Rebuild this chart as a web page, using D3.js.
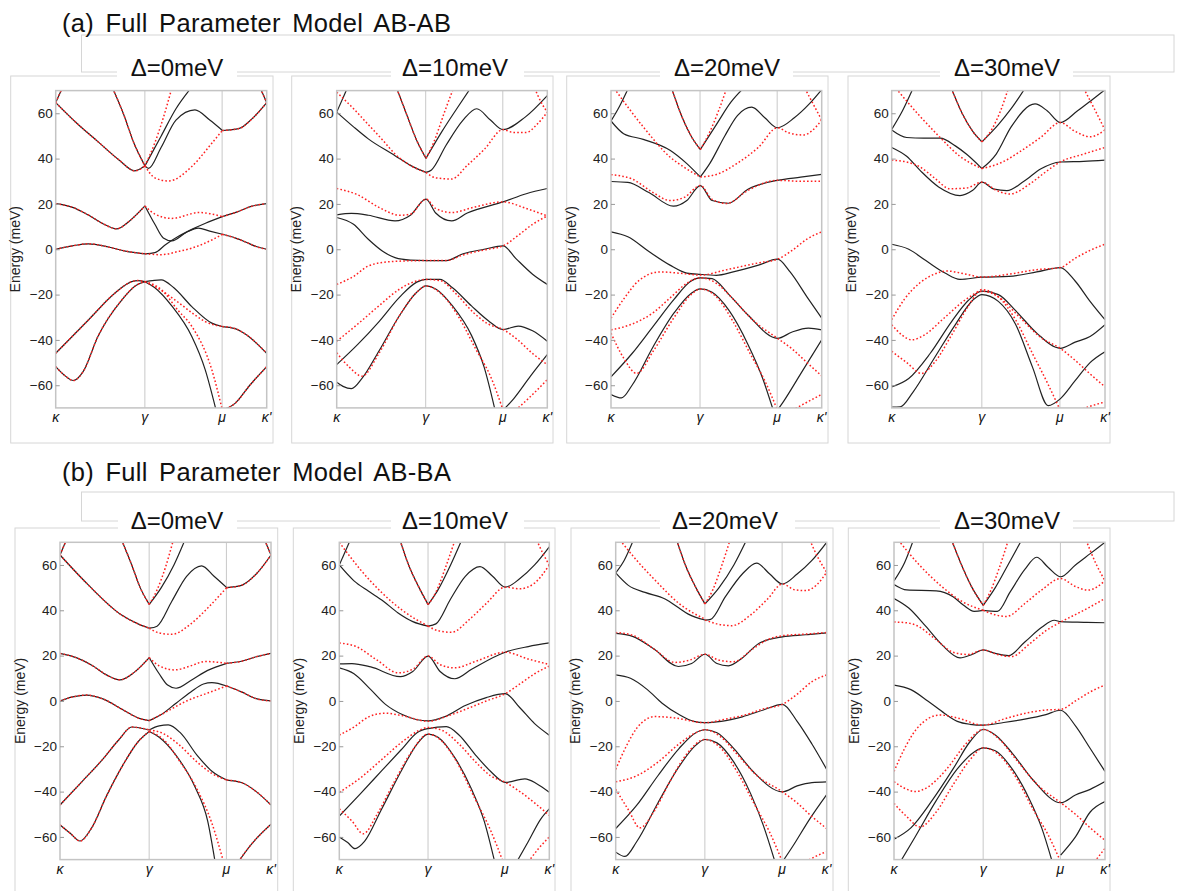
<!DOCTYPE html>
<html>
<head>
<meta charset="utf-8">
<script src="https://cdn.jsdelivr.net/npm/d3@7"></script>
<style>
  body { margin: 0; background: #fff; }
  svg { display: block; font-family: "Liberation Sans", Arial, Helvetica, sans-serif; }
</style>
</head>
<body>
<div id="chart"></div>
<script>
// k-path positions (fraction of path) and labels
const kTicks = [0, 0.4226, 0.7887, 1];
const kLabels = ["κ", "γ", "μ", "κ'"];
const energyTicks = [-60, -40, -20, 0, 20, 40, 60];
const energyRange = [-70, 70];
const deltaLabels = ["Δ=0meV", "Δ=10meV", "Δ=20meV", "Δ=30meV"];
const rowTitles = ["(a) Full Parameter Model AB-AB", "(b) Full Parameter Model AB-BA"];

// bands: [k, energy meV]
// both = black solid with red dotted on top, black = full model only, red = dotted only
const ababD0 = {
  both: [
    [[0,64.7],[0.045,74]],
    [[0,64.7],[0.1,55.6],[0.2,47.5],[0.3,39.4],[0.375,34.6],[0.423,36.8]],
    [[0.27,71],[0.32,60],[0.37,47],[0.423,36.8]],
    [[0.79,52.4],[0.87,53.3],[0.93,57.5],[1,64.7]],
    [[0.97,71],[1,64.7]],
    [[0,20.1],[0.08,18.5],[0.155,15.1],[0.22,11.5],[0.289,9],[0.35,12.5],[0.423,19.1]],
    [[0.79,14.4],[0.86,16.5],[0.93,19],[1,20.1]],
    [[0,0],[0.08,1.5],[0.155,2.4],[0.25,1],[0.33,-0.8],[0.423,-2]],
    [[0.79,6.6],[0.85,5],[0.9,3.2],[0.95,1.2],[1,0]],
    [[0,-45.9],[0.155,-31.2],[0.28,-19.4],[0.36,-14.3],[0.39,-13.8],[0.423,-14.3]],
    [[0.79,-34.1],[0.85,-35],[0.9,-37.5],[1,-45.9]],
    [[0,-51.8],[0.04,-55.5],[0.084,-57.9],[0.13,-54],[0.2,-38.5],[0.313,-22.4],[0.38,-16],[0.423,-14.3]],
    [[0.79,-71],[0.85,-68],[0.92,-60],[1,-51.8]]
  ],
  black: [
    [[0.423,36.8],[0.5,50],[0.57,62],[0.64,71]],
    [[0.423,36.8],[0.44,35.7],[0.5,45],[0.57,57],[0.66,61.5],[0.73,57],[0.79,52.4]],
    [[0.423,19.1],[0.47,11],[0.51,5],[0.55,3.7],[0.62,7.5],[0.676,9.3],[0.73,8],[0.79,6.6]],
    [[0.423,-2],[0.47,-1.5],[0.52,2],[0.58,5.6],[0.65,9],[0.71,11.5],[0.79,14.4]],
    [[0.423,-14.3],[0.5,-13.5],[0.56,-17],[0.645,-25.3],[0.74,-32.6],[0.79,-34.1]],
    [[0.423,-14.3],[0.47,-17],[0.55,-25],[0.645,-38.5],[0.708,-53],[0.76,-71]]
  ],
  red: [
    [[0.423,36.8],[0.47,47],[0.51,58],[0.55,71]],
    [[0.423,36.8],[0.47,31.5],[0.534,30.1],[0.645,36.5],[0.74,46.8],[0.79,52.4]],
    [[0.423,19.1],[0.47,15.5],[0.55,13.6],[0.68,16.2],[0.79,14.4]],
    [[0.423,-2],[0.5,-2.4],[0.58,-1],[0.645,0.5],[0.74,4.1],[0.79,6.6]],
    [[0.423,-14.3],[0.48,-17],[0.566,-22.4],[0.66,-29],[0.708,-31.9],[0.79,-34.1]],
    [[0.423,-14.3],[0.502,-17.9],[0.58,-27],[0.645,-34],[0.74,-53.2],[0.79,-71]]
  ]
};

const ababD10 = {
  both: [
    [[0.285,71],[0.33,60],[0.38,48],[0.424,40.1]]
  ],
  black: [
    [[0,60.5],[0.05,71]],
    [[0,60.5],[0.08,54],[0.15,48.7],[0.277,41.3],[0.35,37],[0.424,33.9]],
    [[0.424,40.1],[0.5,52],[0.57,62],[0.635,71]],
    [[0.424,33.9],[0.45,35],[0.52,46],[0.6,57],[0.665,62],[0.73,57],[0.79,52.8],[0.895,58.3],[1,67.8]],
    [[0,15.2],[0.07,15.8],[0.15,15],[0.277,12.5],[0.35,15],[0.424,22.1],[0.47,16],[0.546,12.5],[0.62,16],[0.79,20.9],[0.9,24.5],[1,26.8]],
    [[0,14],[0.08,11],[0.15,4.4],[0.22,-1],[0.277,-3.7],[0.35,-4.8],[0.424,-5],[0.52,-5],[0.6,-2],[0.7,0],[0.79,1.5],[0.85,-4],[0.93,-11],[1,-15.5]],
    [[0,-50.9],[0.1,-42],[0.2,-32],[0.3,-21],[0.38,-14.5],[0.424,-13.3],[0.49,-13.3],[0.55,-17],[0.64,-25],[0.72,-31.5],[0.79,-35.4],[0.862,-33.9],[0.93,-36],[1,-40.6]],
    [[0,-58.7],[0.03,-60.5],[0.07,-61.5],[0.12,-57],[0.2,-45],[0.3,-29],[0.38,-19],[0.424,-16.2],[0.47,-17.5],[0.55,-25],[0.64,-38],[0.7,-52],[0.752,-71]],
    [[0.79,-71],[0.84,-66],[0.92,-56],[1,-46.5]]
  ],
  red: [
    [[0,69.3],[0.08,62],[0.15,55],[0.22,48],[0.277,42],[0.35,37],[0.424,33.9]],
    [[0.424,40.1],[0.46,47],[0.51,60],[0.554,71]],
    [[0.424,33.9],[0.47,31.5],[0.546,31],[0.62,37],[0.7,44],[0.79,52.8],[0.84,51.5],[0.9,51.5],[0.95,55],[1,60.5]],
    [[0.94,71],[0.97,65],[1,60.5]],
    [[0,26.8],[0.1,24],[0.2,18.5],[0.3,15],[0.35,15.5],[0.424,22.1],[0.47,18],[0.546,16.2],[0.65,18.5],[0.79,20.9],[0.9,18],[1,14.7]],
    [[0,-15.5],[0.08,-12],[0.15,-7.4],[0.25,-5.5],[0.424,-5],[0.52,-5],[0.6,-2.5],[0.7,-0.3],[0.79,1.5],[0.86,6],[0.93,11],[1,14.7]],
    [[0,-40.6],[0.1,-33],[0.2,-25],[0.3,-17.5],[0.38,-14],[0.424,-13.3],[0.49,-13.8],[0.57,-20],[0.65,-28],[0.72,-33],[0.79,-35.4],[0.86,-40],[0.93,-46],[1,-50.9]],
    [[0,-45.7],[0.06,-52],[0.12,-56],[0.2,-46],[0.3,-29],[0.38,-19],[0.424,-16.2],[0.5,-20],[0.58,-30],[0.66,-44],[0.73,-56],[0.79,-71]],
    [[0.85,-71],[0.92,-65],[1,-57.5]]
  ]
};

const ababD20 = {
  both: [
    [[0.288,71],[0.33,60],[0.38,50],[0.424,44]]
  ],
  black: [
    [[0,56.6],[0.04,63],[0.082,71]],
    [[0,56.6],[0.06,51],[0.153,48.5],[0.28,43.7],[0.36,37.8],[0.424,31.9]],
    [[0.424,44],[0.5,55],[0.57,65],[0.628,71]],
    [[0.424,31.9],[0.47,38],[0.54,50],[0.6,59],[0.668,62.7],[0.73,58],[0.79,53.6],[0.87,58],[0.94,64],[1,70.4]],
    [[0,29.9],[0.08,29.5],[0.18,25],[0.296,19],[0.36,21.5],[0.424,28.1],[0.48,21.5],[0.557,20.3],[0.65,26.5],[0.79,30.4],[0.9,31.8],[1,33]],
    [[0,7.7],[0.08,5.5],[0.18,-1],[0.28,-7],[0.36,-10.5],[0.424,-11.1],[0.5,-11.5],[0.58,-10],[0.7,-7],[0.79,-4.4],[0.85,-10],[0.93,-21],[1,-30.4]],
    [[0,-56.3],[0.1,-46],[0.2,-34],[0.3,-22],[0.38,-14],[0.424,-12.6],[0.48,-13],[0.56,-20],[0.65,-29],[0.79,-39.3],[0.86,-36.5],[0.937,-34.8],[1,-35.6]],
    [[0,-64.1],[0.05,-65.6],[0.1,-60],[0.2,-43],[0.3,-28],[0.38,-19.5],[0.424,-17.5],[0.48,-19],[0.56,-27],[0.65,-42],[0.72,-57],[0.77,-71]],
    [[0.79,-71],[0.82,-67],[0.9,-55],[1,-40]]
  ],
  red: [
    [[0.015,71],[0.153,54],[0.28,40.7],[0.35,36],[0.424,31.9]],
    [[0.424,44],[0.47,52],[0.51,61],[0.549,71]],
    [[0.424,31.9],[0.5,33],[0.6,38],[0.7,45],[0.79,53.6],[0.84,51.5],[0.913,50.4],[0.95,52],[1,57]],
    [[0.92,71],[0.96,64],[1,57]],
    [[0,32.9],[0.1,31],[0.2,25],[0.28,21.5],[0.35,23],[0.424,28.1],[0.48,22],[0.549,20.2],[0.65,26],[0.79,30.4],[0.9,30],[1,30]],
    [[0,-30.4],[0.06,-22],[0.13,-14],[0.232,-10],[0.33,-10.6],[0.424,-11.4],[0.55,-9],[0.7,-6],[0.79,-4.4],[0.86,-0.5],[0.93,4.5],[1,7.7]],
    [[0,-35.6],[0.1,-33],[0.2,-28],[0.28,-21.5],[0.36,-15],[0.424,-12.6],[0.5,-15],[0.58,-22],[0.67,-31],[0.79,-39.3],[0.86,-44],[0.93,-50],[1,-55.9]],
    [[0,-37],[0.06,-48],[0.122,-54.8],[0.2,-45],[0.3,-30],[0.38,-20],[0.424,-17.5],[0.5,-21],[0.58,-32],[0.66,-46],[0.73,-58],[0.79,-71]],
    [[0.86,-71],[0.93,-67.5],[1,-64]]
  ]
};

const ababD30 = {
  both: [
    [[0.28,71],[0.33,60],[0.38,52],[0.423,47.4]]
  ],
  black: [
    [[0,52.9],[0.05,61],[0.1,71]],
    [[0,52.6],[0.07,49.3],[0.15,49],[0.227,49],[0.3,45.5],[0.35,42],[0.423,35.6]],
    [[0.423,47.4],[0.5,55],[0.56,62],[0.625,71]],
    [[0.423,35.6],[0.49,42],[0.56,54],[0.672,64.1],[0.73,61],[0.79,55.9],[0.87,61],[0.94,66],[1,70.4]],
    [[0,44.9],[0.07,41],[0.133,34.8],[0.22,27.5],[0.32,23.7],[0.38,26],[0.423,29.6],[0.48,26.5],[0.54,25.9],[0.62,30],[0.7,35.5],[0.79,38.5],[0.9,38.8],[1,39.3]],
    [[0,2.2],[0.08,0],[0.16,-5],[0.25,-10.5],[0.32,-13.3],[0.423,-12.3],[0.55,-12],[0.68,-10],[0.79,-8.1],[0.86,-14],[0.93,-23],[1,-31.1]],
    [[0,-60.7],[0.08,-57],[0.18,-46],[0.28,-32],[0.36,-22.5],[0.423,-18.5],[0.5,-20],[0.58,-27],[0.68,-37],[0.79,-43.7],[0.86,-41],[0.93,-38.5],[1,-33.3]],
    [[0,-69.6],[0.04,-69.5],[0.1,-63],[0.2,-48],[0.3,-33],[0.38,-22.5],[0.423,-20],[0.5,-23],[0.58,-33],[0.66,-52],[0.734,-69],[0.79,-66],[0.86,-58],[0.93,-50],[1,-45.2]]
  ],
  red: [
    [[0.02,71],[0.12,60],[0.22,50],[0.32,41],[0.423,35.6]],
    [[0.423,47.4],[0.47,53],[0.51,61],[0.547,71]],
    [[0.423,35.6],[0.52,38.5],[0.6,43],[0.7,49.5],[0.79,55.9],[0.86,52],[0.93,49.6],[1,52.6]],
    [[0.9,71],[0.95,62],[1,52.6]],
    [[0,39.3],[0.07,38.5],[0.133,36.3],[0.2,31.5],[0.273,26.7],[0.35,27],[0.423,29.6],[0.49,26],[0.555,24.4],[0.65,29],[0.72,34],[0.79,38.5],[0.9,42],[1,44.9]],
    [[0,-31.1],[0.06,-22],[0.13,-15],[0.2,-11],[0.258,-9.6],[0.35,-11],[0.423,-12.3],[0.55,-11],[0.68,-9],[0.79,-8.1],[0.86,-4],[0.93,-0.5],[1,2.2]],
    [[0,-33.3],[0.05,-38],[0.094,-40],[0.15,-38],[0.25,-30],[0.35,-22],[0.423,-18.5],[0.5,-21],[0.6,-30],[0.7,-39],[0.79,-43.7],[0.86,-49],[0.93,-55],[1,-60.7]],
    [[0,-45],[0.07,-50],[0.14,-54.8],[0.2,-50],[0.28,-38],[0.36,-25],[0.423,-17.8],[0.5,-21],[0.58,-31],[0.66,-46],[0.73,-59],[0.79,-71]],
    [[0.88,-71],[0.94,-69],[1,-67.4]]
  ]
};

const abbaD0 = {
  both: [
    [[0,64.4],[0.03,71]],
    [[0,64.4],[0.134,51.2],[0.292,37.9],[0.37,34],[0.423,32.1]],
    [[0.292,71],[0.34,60],[0.38,50],[0.423,42.6]],
    [[0.79,50],[0.86,51],[0.93,56],[1,64.4]],
    [[0.97,71],[1,64.4]],
    [[0,21],[0.08,19],[0.155,15.5],[0.22,11.5],[0.284,9.3],[0.35,12.5],[0.423,19.1]],
    [[0.79,16.6],[0.86,17.5],[0.93,19.5],[1,21]],
    [[0,0],[0.06,1.8],[0.126,2.6],[0.2,1],[0.3,-4],[0.37,-7.5],[0.423,-8.7]],
    [[0.79,6.6],[0.86,4],[0.93,1],[1,0]],
    [[0,-45.9],[0.1,-36],[0.2,-26],[0.28,-17],[0.34,-11.5],[0.423,-12.8]],
    [[0.79,-34.9],[0.86,-36],[0.93,-40],[1,-45.9]],
    [[0,-54.7],[0.05,-58.5],[0.095,-61.8],[0.15,-56],[0.22,-42],[0.3,-28],[0.37,-18],[0.423,-13.5]],
    [[0.845,-71],[0.9,-64],[1,-54.4]]
  ],
  black: [
    [[0.423,42.6],[0.48,50],[0.54,60],[0.592,71]],
    [[0.423,32.1],[0.46,33],[0.53,44],[0.6,55],[0.671,59.6],[0.73,55],[0.79,50]],
    [[0.423,19.1],[0.47,12],[0.51,7],[0.55,5.6],[0.62,9],[0.7,13.5],[0.79,16.6]],
    [[0.423,-8.7],[0.48,-6],[0.55,-1],[0.62,4],[0.68,7.5],[0.72,8.1],[0.79,6.6]],
    [[0.423,-12.8],[0.47,-11],[0.513,-10.6],[0.57,-14],[0.65,-24],[0.72,-31],[0.79,-34.9]],
    [[0.423,-13.5],[0.47,-16],[0.55,-24],[0.64,-38],[0.7,-53],[0.735,-71]]
  ],
  red: [
    [[0.423,42.6],[0.46,49],[0.5,59],[0.537,71]],
    [[0.423,32.1],[0.47,30],[0.53,29.4],[0.62,34],[0.7,41],[0.79,50]],
    [[0.423,19.1],[0.47,15.5],[0.545,13.7],[0.62,15.5],[0.687,17.4],[0.79,16.6]],
    [[0.423,-8.7],[0.5,-5],[0.6,0],[0.7,3.5],[0.79,6.6]],
    [[0.423,-12.8],[0.48,-14],[0.56,-19],[0.65,-27],[0.72,-32],[0.79,-34.9]],
    [[0.423,-13.5],[0.49,-17],[0.57,-27],[0.65,-39],[0.72,-54],[0.775,-71]]
  ]
};

const abbaD10 = {
  both: [
    [[0.289,71],[0.33,60],[0.38,50],[0.423,42.5]]
  ],
  black: [
    [[0,60],[0.05,70.5]],
    [[0,60],[0.07,53],[0.138,48.5],[0.21,44],[0.28,38.8],[0.35,35],[0.423,33]],
    [[0.423,42.5],[0.47,49],[0.53,60],[0.583,71]],
    [[0.423,33],[0.46,34],[0.53,45],[0.6,55],[0.67,59.3],[0.73,55],[0.79,50.2],[0.86,54],[0.93,60],[1,68]],
    [[0,16.4],[0.06,16.5],[0.15,15],[0.29,10.7],[0.35,13],[0.423,19.8],[0.48,13],[0.55,9.8],[0.63,14],[0.79,21.5],[0.9,24],[1,25.6]],
    [[0,14.6],[0.07,12],[0.15,5],[0.22,-1.5],[0.3,-6],[0.37,-8.3],[0.423,-8.8],[0.5,-7],[0.6,-2],[0.7,1.5],[0.79,3.2],[0.86,-3],[0.93,-10],[1,-15.1]],
    [[0,-50.8],[0.1,-41],[0.2,-31],[0.3,-21],[0.37,-14],[0.423,-12.2],[0.51,-11.3],[0.57,-15],[0.65,-24],[0.72,-31],[0.79,-35.9],[0.884,-34.4],[0.94,-36.5],[1,-40.3]],
    [[0,-60],[0.04,-62.5],[0.075,-65.2],[0.12,-62],[0.2,-48],[0.3,-30],[0.37,-19],[0.423,-14.6],[0.47,-16],[0.55,-25],[0.63,-39],[0.69,-53],[0.74,-71]],
    [[0.845,-71],[0.9,-62],[0.96,-52],[1,-47.6]]
  ],
  red: [
    [[0,70],[0.1,58],[0.2,48],[0.3,40],[0.423,33]],
    [[0.423,42.5],[0.46,48],[0.51,60],[0.551,71]],
    [[0.423,33],[0.47,31],[0.535,30.3],[0.62,36],[0.7,43],[0.79,50.2],[0.86,49.5],[0.93,52],[1,60]],
    [[0.94,71],[0.97,65],[1,60]],
    [[0,25.6],[0.08,24],[0.18,18],[0.28,12.4],[0.35,14],[0.423,19.8],[0.48,16],[0.55,14.6],[0.65,17.5],[0.79,21.5],[0.9,18.5],[1,16.1]],
    [[0,-15.1],[0.07,-11.5],[0.14,-7],[0.217,-5.4],[0.3,-6.5],[0.423,-9],[0.52,-6.5],[0.62,-3],[0.7,0],[0.79,3.2],[0.86,7.5],[0.93,12],[1,15.4]],
    [[0,-40.3],[0.1,-34],[0.2,-26],[0.3,-18],[0.38,-13],[0.423,-11.7],[0.49,-13],[0.57,-19],[0.65,-27],[0.72,-33],[0.79,-35.9],[0.86,-40],[0.93,-45],[1,-50.5]],
    [[0,-47.6],[0.06,-53],[0.114,-58.6],[0.18,-50],[0.26,-36],[0.34,-23],[0.423,-14.6],[0.48,-17],[0.56,-27],[0.64,-42],[0.72,-57],[0.78,-71]],
    [[0.9,-71],[0.95,-65],[1,-60]]
  ]
};

const abbaD20 = {
  both: [
    [[0.289,71],[0.33,60],[0.38,50],[0.423,42.8]]
  ],
  black: [
    [[0,56.5],[0.04,62],[0.084,71]],
    [[0,56.5],[0.06,51],[0.139,47.9],[0.234,45],[0.3,41],[0.344,38.3],[0.423,35.7]],
    [[0.423,42.8],[0.49,50],[0.56,60],[0.62,71]],
    [[0.423,35.7],[0.45,36],[0.52,46],[0.6,56],[0.668,60.8],[0.73,56],[0.79,51.6],[0.86,56],[0.93,62],[1,70]],
    [[0,29.8],[0.08,28.5],[0.18,23],[0.297,15.2],[0.36,16.5],[0.423,20.6],[0.48,16.5],[0.534,15.5],[0.6,19],[0.68,25.5],[0.79,28.3],[0.9,29.2],[1,30]],
    [[0,11.5],[0.07,10],[0.15,5],[0.22,-1],[0.3,-6],[0.37,-9],[0.423,-9.6],[0.5,-9],[0.6,-7],[0.7,-4],[0.79,-1.5],[0.86,-9],[0.93,-19],[1,-30.2]],
    [[0,-56.3],[0.1,-46],[0.2,-33],[0.3,-21],[0.38,-14],[0.423,-12.7],[0.48,-14],[0.56,-21],[0.65,-31],[0.79,-40.1],[0.86,-37.5],[0.93,-36],[1,-35.7]],
    [[0,-66.7],[0.044,-68.6],[0.1,-62],[0.2,-45],[0.3,-29],[0.38,-19.5],[0.423,-17],[0.48,-18.5],[0.56,-27],[0.64,-41],[0.7,-55],[0.755,-71]],
    [[0.79,-71],[0.84,-64],[0.92,-52],[1,-41.3]]
  ],
  red: [
    [[0.02,71],[0.1,62],[0.2,52],[0.3,43],[0.423,36.1]],
    [[0.423,42.8],[0.46,49],[0.5,59],[0.542,71]],
    [[0.423,35.7],[0.48,34],[0.55,33.2],[0.64,38],[0.72,45],[0.79,51.6],[0.85,49],[0.9,48.7],[0.95,51],[1,56.8]],
    [[0.92,71],[0.96,63],[1,56.8]],
    [[0,30.2],[0.08,29],[0.18,23],[0.281,17],[0.35,18],[0.423,20.6],[0.49,18],[0.558,17.3],[0.65,23],[0.72,27],[0.79,28.8],[0.9,29.5],[1,30.2]],
    [[0,-30.2],[0.05,-20],[0.1,-12],[0.186,-6.9],[0.28,-7.5],[0.423,-9.6],[0.52,-8],[0.62,-6],[0.7,-3.5],[0.79,-1.5],[0.86,3],[0.93,8.5],[1,11.5]],
    [[0,-35.7],[0.1,-33],[0.2,-27],[0.3,-19],[0.38,-14],[0.423,-12.7],[0.5,-16],[0.58,-24],[0.67,-33],[0.79,-40.1],[0.86,-45],[0.93,-51],[1,-56.3]],
    [[0,-39],[0.06,-48],[0.115,-56],[0.18,-49],[0.26,-35],[0.34,-23],[0.423,-17],[0.5,-21],[0.58,-32],[0.66,-46],[0.73,-58],[0.79,-71]],
    [[0.9,-71],[0.95,-68.5],[1,-66.4]]
  ]
};

const abbaD30 = {
  both: [
    [[0.273,71],[0.32,60],[0.37,50],[0.423,42.2]]
  ],
  black: [
    [[0,53],[0.05,61],[0.092,71]],
    [[0,51.4],[0.06,49],[0.2,48.6],[0.28,46],[0.33,42.2],[0.38,39.5],[0.423,40]],
    [[0.423,40],[0.49,39.5],[0.55,48],[0.62,58],[0.676,63.4],[0.73,59],[0.79,54.8],[0.86,60],[0.93,65],[1,70]],
    [[0.423,42.2],[0.48,50],[0.54,60],[0.605,71]],
    [[0,45.2],[0.07,41],[0.15,33],[0.23,24.5],[0.313,19],[0.37,20.5],[0.423,22.5],[0.48,21],[0.542,20],[0.62,26],[0.7,32.5],[0.76,35.6],[0.79,35],[0.9,34.7],[1,34.5]],
    [[0,7],[0.08,5],[0.16,0],[0.24,-5.5],[0.3,-9],[0.36,-10.3],[0.423,-10.7],[0.52,-9.5],[0.62,-8],[0.72,-6],[0.79,-4.1],[0.86,-11],[0.93,-21],[1,-31.1]],
    [[0,-61],[0.08,-56],[0.18,-44],[0.28,-30],[0.36,-18],[0.423,-12.6],[0.48,-15],[0.56,-23],[0.66,-35],[0.79,-44.9],[0.86,-41.5],[0.93,-39],[1,-35.6]],
    [[0.03,-71],[0.1,-60],[0.2,-44],[0.3,-30],[0.38,-22.5],[0.423,-20.7],[0.48,-22],[0.56,-30],[0.64,-43],[0.7,-56],[0.75,-71]],
    [[0.79,-68],[0.86,-60],[0.93,-49],[1,-44.4]]
  ],
  red: [
    [[0.02,71],[0.12,60],[0.22,51],[0.32,44],[0.423,40]],
    [[0.423,42.2],[0.46,49],[0.5,59],[0.542,71]],
    [[0.423,40],[0.48,38],[0.534,37.3],[0.62,43],[0.7,49],[0.79,54],[0.86,50.5],[0.92,48.9],[1,53]],
    [[0.91,71],[0.96,60],[1,53]],
    [[0,34.8],[0.06,34.5],[0.107,33.3],[0.2,27],[0.28,21.5],[0.35,20.5],[0.423,22.5],[0.49,20.5],[0.558,19.6],[0.64,25],[0.72,31],[0.79,34.8],[0.9,40],[1,45.2]],
    [[0,-31.1],[0.05,-21],[0.11,-12],[0.218,-6.2],[0.3,-7.5],[0.423,-10.7],[0.52,-8],[0.62,-5.5],[0.72,-4],[0.79,-3.7],[0.86,0],[0.93,4],[1,7]],
    [[0,-35.6],[0.05,-38.5],[0.1,-40],[0.16,-38],[0.25,-30],[0.34,-19],[0.423,-12.6],[0.5,-17],[0.58,-26],[0.68,-37],[0.79,-44.9],[0.86,-50],[0.93,-56],[1,-61.5]],
    [[0,-45.2],[0.06,-51],[0.123,-55.6],[0.2,-49],[0.28,-37],[0.36,-26],[0.423,-20.7],[0.5,-24],[0.58,-34],[0.66,-48],[0.73,-59],[0.79,-71]],
    [[0.95,-71],[1,-65]]
  ]
};

const panelData = [[ababD0, ababD10, ababD20, ababD30], [abbaD0, abbaD10, abbaD20, abbaD30]];

// layout (pixels)
const W = 1179, H = 891;
const plotH = 317.3;
const rows = [
  { titleY: 31.5, boxTop: 35, boxBottom: 72, deltaY: 76, frameTop: 76, frameBottom: 443, plotTop: 90.6,
    frames: [[10.7,273],[291.7,553],[566.7,828],[848,1110]],
    plotX: [[55.7,211],[336.7,210.6],[611,210.7],[891.7,213.3]],
    deltaX: [177,455,727,1007], deltaBg: [[117,237],[391,524],[660,793],[940,1073]] },
  { titleY: 481, boxTop: 492, boxBottom: 521, deltaY: 529, frameTop: 528, frameBottom: 900, plotTop: 542.3,
    frames: [[15,277.7],[293.3,555],[571,833],[848.3,1110]],
    plotX: [[60,211],[339.3,210],[615.7,211],[894,211]],
    deltaX: [177,455,725,1007], deltaBg: [[118,237],[391,524],[660,795],[940,1073]] }
];

const svg = d3.select("#chart").append("svg")
  .attr("width", W)
  .attr("height", H);

const defs = svg.append("defs");

rows.forEach(function(row, r) {
  // row title and the light box behind the panel titles
  svg.append("rect")
    .attr("x", 81.5).attr("y", row.boxTop)
    .attr("width", 1174 - 81.5).attr("height", row.boxBottom - row.boxTop)
    .attr("fill", "none")
    .attr("stroke", "#d6d6d6");

  svg.append("text")
    .attr("x", 62)
    .attr("y", row.titleY)
    .attr("font-size", 25.5)
    .attr("letter-spacing", 0.3)
    .attr("word-spacing", 4)
    .attr("fill", "#111")
    .text(rowTitles[r]);

  row.frames.forEach(function(f, c) {
    // outer panel frame
    svg.append("rect")
      .attr("x", f[0]).attr("y", row.frameTop)
      .attr("width", f[1] - f[0]).attr("height", row.frameBottom - row.frameTop)
      .attr("fill", "#fff")
      .attr("stroke", "#d6d6d6");
  });

  row.frames.forEach(function(f, c) {
    // white label background then Δ title
    svg.append("rect")
      .attr("x", row.deltaBg[c][0]).attr("y", row.boxBottom - 8)
      .attr("width", row.deltaBg[c][1] - row.deltaBg[c][0])
      .attr("height", row.frameTop - row.boxBottom + 11)
      .attr("fill", "#fff");
    svg.append("text")
      .attr("x", row.deltaX[c])
      .attr("y", row.deltaY)
      .attr("text-anchor", "middle")
      .attr("font-size", 24)
      .attr("fill", "#111")
      .text(deltaLabels[c]);

    const left = row.plotX[c][0], width = row.plotX[c][1];
    const top = row.plotTop;
    const x = d3.scaleLinear().domain([0, 1]).range([left, left + width]);
    const y = d3.scaleLinear().domain(energyRange).range([top + plotH, top]);

    const clipId = "clip-" + r + "-" + c;
    defs.append("clipPath").attr("id", clipId)
      .append("rect")
      .attr("x", left).attr("y", top)
      .attr("width", width).attr("height", plotH);

    const g = svg.append("g");

    // vertical lines at γ and μ
    g.selectAll("line.kline")
      .data(kTicks.slice(1, 3))
      .enter().append("line")
        .attr("class", "kline")
        .attr("x1", d => x(d)).attr("x2", d => x(d))
        .attr("y1", top).attr("y2", top + plotH)
        .attr("stroke", "#c8c8c8")
        .attr("stroke-width", 1);

    const line = d3.line()
      .x(d => x(d[0]))
      .y(d => y(d[1]))
      .curve(d3.curveMonotoneX);

    const bands = panelData[r][c];
    const curves = g.append("g").attr("clip-path", "url(#" + clipId + ")");

    // black (full model) first, red dotted drawn on top
    curves.selectAll("path.black")
      .data(bands.black.concat(bands.both))
      .enter().append("path")
        .attr("class", "black")
        .attr("d", line)
        .attr("fill", "none")
        .attr("stroke", "#222")
        .attr("stroke-width", 1.2);

    curves.selectAll("path.red")
      .data(bands.red.concat(bands.both))
      .enter().append("path")
        .attr("class", "red")
        .attr("d", line)
        .attr("fill", "none")
        .attr("stroke", "#ff2020")
        .attr("stroke-width", 1.5)
        .attr("stroke-dasharray", "1.6,2.2");

    // plot frame
    g.append("rect")
      .attr("x", left).attr("y", top)
      .attr("width", width).attr("height", plotH)
      .attr("fill", "none")
      .attr("stroke", "#c4c4c4")
      .attr("stroke-width", 1.5);

    // energy axis
    const yAxis = d3.axisLeft(y)
      .tickValues(energyTicks)
      .tickSize(-4)
      .tickPadding(3);
    const ax = g.append("g")
      .attr("transform", "translate(" + left + ",0)")
      .call(yAxis);
    ax.select(".domain").remove();
    ax.selectAll(".tick line").attr("stroke", "#999");
    ax.selectAll(".tick text")
      .attr("font-size", 13.5)
      .attr("font-family", "Liberation Sans, Arial, sans-serif")
      .attr("fill", "#222");

    g.append("text")
      .attr("transform", "translate(" + (left - 35.5) + "," + (top + plotH / 2) + ") rotate(-90)")
      .attr("text-anchor", "middle")
      .attr("font-size", 14)
      .attr("fill", "#222")
      .text("Energy (meV)");

    // k-path labels
    g.selectAll("text.klabel")
      .data(kTicks)
      .enter().append("text")
        .attr("class", "klabel")
        .attr("x", d => x(d))
        .attr("y", top + plotH + 14)
        .attr("text-anchor", "middle")
        .attr("font-size", 14)
        .attr("font-style", "italic")
        .attr("fill", "#111")
        .text((d, i) => kLabels[i]);
  });
});
</script>
</body>
</html>
